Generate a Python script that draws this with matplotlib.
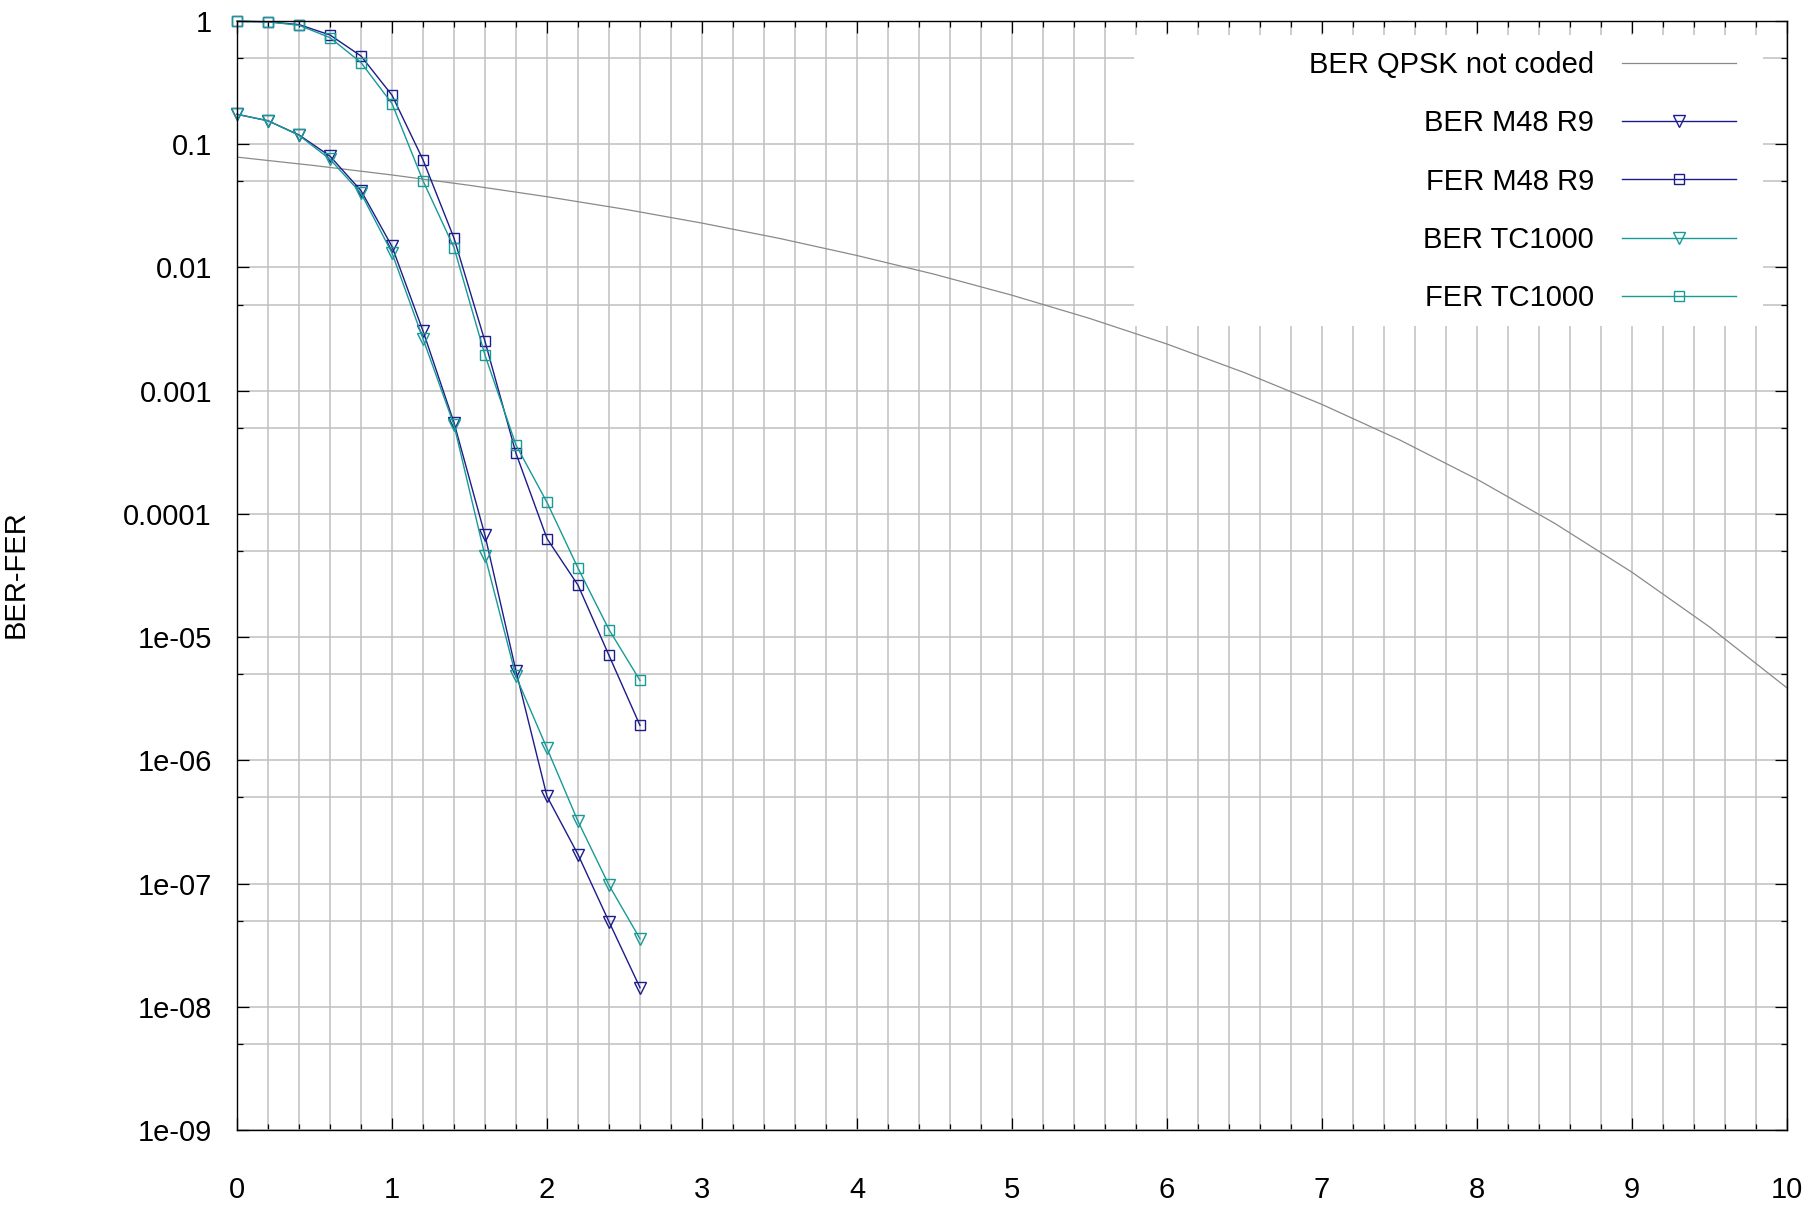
import matplotlib
matplotlib.use("Agg")
import matplotlib.pyplot as plt
from matplotlib.ticker import FixedLocator, FixedFormatter, MultipleLocator, NullFormatter
from matplotlib.patches import Rectangle

# ---- data ----
x_uncoded = [0.0, 0.5, 1.0, 1.5, 2.0, 2.5, 3.0, 3.5, 4.0, 4.5, 5.0,
             5.5, 6.0, 6.5, 7.0, 7.5, 8.0, 8.5, 9.0, 9.5, 10.0]
ber_uncoded = [0.0786, 0.0671, 0.0563, 0.0464, 0.0375, 0.0297, 0.0229, 0.0172,
               0.0125, 0.00880, 0.00595, 0.00386, 0.00239, 0.00140, 7.73e-4,
               3.99e-4, 1.91e-4, 8.40e-5, 3.36e-5, 1.21e-5, 3.87e-6]

x_coded = [0.0, 0.2, 0.4, 0.6, 0.8, 1.0, 1.2, 1.4, 1.6, 1.8, 2.0, 2.2, 2.4, 2.6]
ber_m48 = [0.175, 0.155, 0.119, 0.080, 0.042, 0.0148, 3.05e-3, 5.5e-4,
           6.7e-5, 5.3e-6, 5.1e-7, 1.72e-7, 4.9e-8, 1.43e-8]
fer_m48 = [0.995, 0.985, 0.935, 0.77, 0.52, 0.25, 0.0747, 0.0173,
           2.51e-3, 3.1e-4, 6.3e-5, 2.64e-5, 7.1e-6, 1.92e-6]
ber_tc = [0.175, 0.155, 0.118, 0.0755, 0.040, 0.0131, 2.64e-3, 5.26e-4,
          4.55e-5, 4.8e-6, 1.25e-6, 3.2e-7, 9.7e-8, 3.56e-8]
fer_tc = [0.995, 0.985, 0.923, 0.733, 0.46, 0.214, 0.0505, 0.0145,
          1.94e-3, 3.62e-4, 1.24e-4, 3.63e-5, 1.15e-5, 4.45e-6]

labels = ["BER QPSK not coded", "BER M48 R9", "FER M48 R9", "BER TC1000", "FER TC1000"]

x_ticks = [0, 1, 2, 3, 4, 5, 6, 7, 8, 9, 10]
x_ticklabels = ["0", "1", "2", "3", "4", "5", "6", "7", "8", "9", "10"]
y_ticks = [1, 1e-1, 1e-2, 1e-3, 1e-4, 1e-5, 1e-6, 1e-7, 1e-8, 1e-9]
y_ticklabels = ["1", "0.1", "0.01", "0.001", "0.0001", "1e-05", "1e-06", "1e-07", "1e-08", "1e-09"]
y_minor = [5e-1, 5e-2, 5e-3, 5e-4, 5e-5, 5e-6, 5e-7, 5e-8, 5e-9]

# ---- style ----
plt.rcParams['font.family'] = ['Liberation Sans', 'DejaVu Sans']
FS = 21
NAVY = "#1c1c8a"
TEAL = "#189a96"
GRAY = "#8a8a8a"

fig = plt.figure(figsize=(18.11, 12.06), dpi=100)
ax = fig.add_axes([237/1811, 76/1206, 1550/1811, 1109/1206])

ax.set_yscale('log')
ax.set_xlim(0, 10)
ax.set_ylim(1e-9, 1)

ax.plot(x_uncoded, ber_uncoded, color=GRAY, lw=0.9, label=labels[0], zorder=3)
ax.plot(x_coded, ber_m48, color=NAVY, lw=1.0, marker='v', ms=9, mfc='none',
        mec=NAVY, mew=1.0, label=labels[1], zorder=4, clip_on=False)
ax.plot(x_coded, fer_m48, color=NAVY, lw=1.0, marker='s', ms=6.5, mfc='none',
        mec=NAVY, mew=1.0, label=labels[2], zorder=4, clip_on=False)
ax.plot(x_coded, ber_tc, color=TEAL, lw=1.0, marker='v', ms=9, mfc='none',
        mec=TEAL, mew=1.0, label=labels[3], zorder=4, clip_on=False)
ax.plot(x_coded, fer_tc, color=TEAL, lw=1.0, marker='s', ms=6.5, mfc='none',
        mec=TEAL, mew=1.0, label=labels[4], zorder=4, clip_on=False)

ax.xaxis.set_major_locator(FixedLocator(x_ticks))
ax.xaxis.set_major_formatter(FixedFormatter(x_ticklabels))
ax.xaxis.set_minor_locator(MultipleLocator(0.2))
ax.yaxis.set_major_locator(FixedLocator(y_ticks))
ax.yaxis.set_major_formatter(FixedFormatter(y_ticklabels))
ax.yaxis.set_minor_locator(FixedLocator(y_minor))
ax.yaxis.set_minor_formatter(NullFormatter())

ax.set_axisbelow(True)
ax.grid(True, which='both', color='#c0c0c0', lw=1.1)

ax.tick_params(which='both', direction='in', top=True, right=True, color='black', width=0.9)
ax.tick_params(which='major', length=8.6, labelsize=FS)
ax.tick_params(which='minor', length=4.5)
ax.tick_params(axis='y', which='major', pad=18)
ax.tick_params(axis='x', which='major', pad=33)
for s in ax.spines.values():
    s.set_linewidth(1.0)
    s.set_color('black')
    s.set_zorder(5)

# opaque key area
ax.add_patch(Rectangle((0.579, 0.725), 0.4055, 0.2625, transform=ax.transAxes,
                       facecolor='white', edgecolor='none', zorder=2))

leg = ax.legend(loc='upper right', bbox_to_anchor=(0.967, 0.973), frameon=False,
                markerfirst=False, fontsize=FS, handlelength=3.9, handletextpad=0.97,
                labelspacing=1.04, borderpad=0, borderaxespad=0)
leg.set_zorder(6)

fig.text(2/1811, 0.524, "BER-FER", rotation=90, ha='left', va='center', fontsize=FS)

fig.savefig("out.png", dpi=100)
